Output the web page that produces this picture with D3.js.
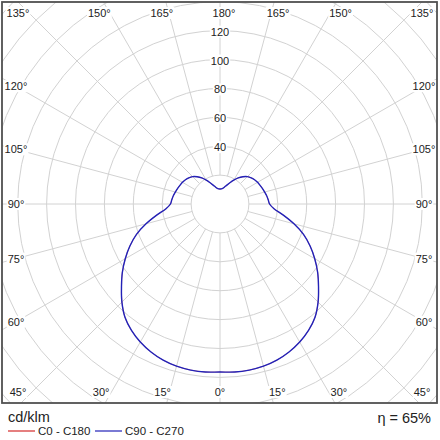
<!DOCTYPE html>
<html>
<head>
<meta charset="utf-8">
<script src="https://cdn.jsdelivr.net/npm/d3@7"></script>
<style>
  body { margin: 0; background: #fff; }
  svg { display: block; font-family: "Liberation Sans", Arial, sans-serif; }
</style>
</head>
<body>
<div id="chart"></div>
<script>
// gamma angles (deg) and luminous intensity in cd/klm
var gammaDeg = [0, 5, 10, 15, 20, 25, 30, 35, 40, 45, 50, 55, 60, 65, 70, 75, 80, 85, 90,
                95, 100, 105, 110, 115, 120, 125, 130, 135, 140, 145, 150, 155, 160, 165, 170, 175, 180];
var c90c270 = [116.2, 116.7, 116.7, 116.2, 115, 113, 110.3, 106.8, 102.3, 96, 89, 82.5, 75.7, 68.8, 61.5, 53, 44.5, 37.5, 34.3,
               33.5, 32.8, 32, 31.3, 30.6, 30, 29.2, 28.2, 26.8, 24.6, 22, 19, 16.2, 13.9, 12.2, 11, 10.5, 10.4];
var c0c180 = [116.2, 116.7, 116.7, 116.2, 115, 113, 110.3, 106.8, 102.3, 96, 89, 82.5, 75.7, 68.8, 61.5, 53, 44.5, 37.5, 34.3,
              33.5, 32.8, 32, 31.3, 30.6, 30, 29.2, 28.2, 26.8, 24.6, 22, 19, 16.2, 13.9, 12.2, 11, 10.5, 10.4];

var ringValues = [20, 40, 60, 80, 100, 120, 140, 160, 180, 200];
var ringLabels = [40, 60, 80, 100, 120];
var angleTicks = [0, 15, 30, 45, 60, 75, 90, 105, 120, 135, 150, 165, 180];

var seriesNames = ["C0 - C180", "C90 - C270"];
var seriesColors = ["#d42a2a", "#2222b8"];
var seriesWidths = [0.5, 1.4];
var unitLabel = "cd/klm";
var etaLabel = "\u03b7 = 65%";

var W = 440, H = 440;
var frame = {x0: 2, y0: 2, x1: 437, y1: 403};
var inset = {x0: 16, y0: 13, x1: 424, y1: 392};
var cx = 220, cy = 204;

var r = d3.scaleLinear().domain([0, 120]).range([0, 173.4]);

var svg = d3.select("#chart").append("svg")
    .attr("width", W)
    .attr("height", H);

svg.append("clipPath").attr("id", "clip")
    .append("rect")
    .attr("x", frame.x0).attr("y", frame.y0)
    .attr("width", frame.x1 - frame.x0).attr("height", frame.y1 - frame.y0);

var grid = svg.append("g").attr("clip-path", "url(#clip)");

grid.selectAll("circle.ring")
    .data(ringValues)
    .enter().append("circle")
    .attr("class", "ring")
    .attr("cx", cx).attr("cy", cy)
    .attr("r", function(d) { return r(d); })
    .attr("fill", "none")
    .attr("stroke", "#d2d2d2")
    .attr("stroke-width", 1);

// spokes every 15 deg on both halves, starting at the first ring
var spokes = d3.range(0, 360, 15);
grid.selectAll("line.spoke")
    .data(spokes)
    .enter().append("line")
    .attr("class", "spoke")
    .attr("x1", function(d) { return cx + r(20) * Math.sin(d * Math.PI / 180); })
    .attr("y1", function(d) { return cy + r(20) * Math.cos(d * Math.PI / 180); })
    .attr("x2", function(d) { return cx + 500 * Math.sin(d * Math.PI / 180); })
    .attr("y2", function(d) { return cy + 500 * Math.cos(d * Math.PI / 180); })
    .attr("stroke", "#d2d2d2")
    .attr("stroke-width", 1);

// curves: right half for C90 / C0, left half mirrored for C270 / C180
function curvePoints(vals) {
    var pts = [];
    gammaDeg.forEach(function(g, i) { pts.push([Math.PI - g * Math.PI / 180, r(vals[i])]); });
    for (var i = gammaDeg.length - 2; i >= 0; i--) {
        pts.push([-(Math.PI - gammaDeg[i] * Math.PI / 180), r(vals[i])]);
    }
    return pts;
}

var radial = d3.lineRadial()
    .angle(function(d) { return d[0]; })
    .radius(function(d) { return d[1]; })
    .curve(d3.curveCatmullRomClosed.alpha(0.5));

var curves = svg.append("g").attr("transform", "translate(" + cx + "," + cy + ")");
[c0c180, c90c270].forEach(function(vals, i) {
    curves.append("path")
        .attr("d", radial(curvePoints(vals)))
        .attr("fill", "none")
        .attr("stroke", seriesColors[i])
        .attr("stroke-width", seriesWidths[i]);
});

function labelWithBox(g, x, y, txt, size) {
    var t = g.append("text")
        .attr("x", x).attr("y", y)
        .attr("text-anchor", "middle")
        .attr("dominant-baseline", "central")
        .style("font-size", size + "px")
        .attr("fill", "#222")
        .text(txt);
    var bb = t.node().getBBox();
    g.insert("rect", "text")
        .attr("x", bb.x - 1).attr("y", bb.y)
        .attr("width", bb.width + 2).attr("height", bb.height)
        .attr("fill", "#fff");
}

// intensity labels up the 180 deg axis
ringLabels.forEach(function(v) {
    labelWithBox(svg.append("g"), cx, cy - r(v) + 1, v, 11);
});

// angle labels where the spokes reach the frame
function anglePos(deg, side) {
    var a = deg * Math.PI / 180;
    var dx = side * Math.sin(a), dy = Math.cos(a);
    var tx = Math.abs(dx) < 1e-6 ? Infinity : ((dx < 0 ? frame.x0 : frame.x1) - cx) / dx;
    var ty = Math.abs(dy) < 1e-6 ? Infinity : ((dy < 0 ? frame.y0 : frame.y1) - cy) / dy;
    if (ty <= tx) {
        var x = cx + dx * ty;
        // nudge outward a little, as the original places them
        x = x + Math.sign(dx) * 4;
        x = Math.max(inset.x0 + 2, Math.min(inset.x1 - 2, x));
        return [x, dy < 0 ? inset.y0 : inset.y1];
    }
    var lx = dx < 0 ? inset.x0 : inset.x1;
    return [lx, cy + dy * (lx - cx) / dx];
}

angleTicks.forEach(function(deg) {
    var sides = (deg === 0 || deg === 180) ? [1] : [-1, 1];
    sides.forEach(function(s) {
        var p = anglePos(deg, s);
        labelWithBox(svg.append("g"), p[0], p[1], deg + "\u00b0", 11);
    });
});

svg.append("rect")
    .attr("x", frame.x0).attr("y", frame.y0)
    .attr("width", frame.x1 - frame.x0).attr("height", frame.y1 - frame.y0)
    .attr("fill", "none")
    .attr("stroke", "#505050")
    .attr("stroke-width", 1.8);

// legend
svg.append("text")
    .attr("x", 8).attr("y", 422)
    .style("font-size", "14.5px")
    .attr("fill", "#222")
    .text(unitLabel);

svg.append("text")
    .attr("x", 431).attr("y", 423)
    .attr("text-anchor", "end")
    .style("font-size", "14.5px")
    .attr("fill", "#222")
    .text(etaLabel);

var legendX = [8, 95];
seriesNames.forEach(function(name, i) {
    svg.append("line")
        .attr("x1", legendX[i]).attr("x2", legendX[i] + 27)
        .attr("y1", 431).attr("y2", 431)
        .attr("stroke", seriesColors[i])
        .attr("stroke-width", 1.2);
    svg.append("text")
        .attr("x", legendX[i] + 30).attr("y", 435)
        .style("font-size", "11.5px")
        .attr("fill", "#222")
        .text(name);
});
</script>
</body>
</html>
